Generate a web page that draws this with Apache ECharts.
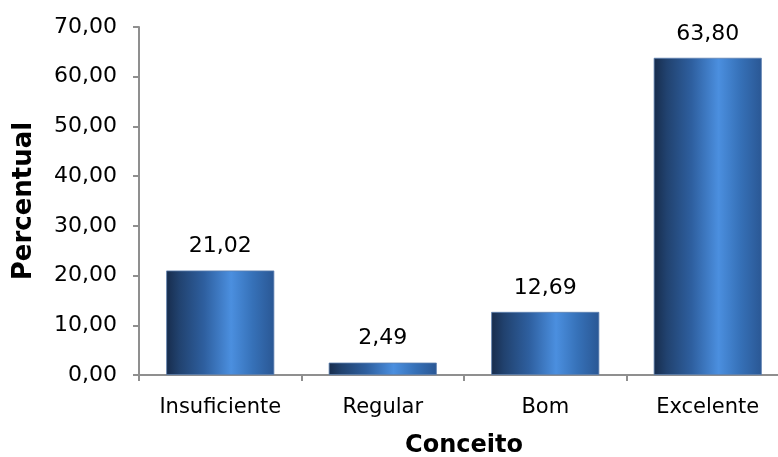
<!DOCTYPE html>
<html>
<head>
<meta charset="utf-8">
<script src="https://cdn.jsdelivr.net/npm/echarts@6/dist/echarts.min.js"></script>
<style>
  html, body { margin: 0; padding: 0; background: #fff; }
  #chart { width: 778px; height: 457px; overflow: hidden; }
</style>
</head>
<body>
<div id="chart"></div>
<script>
// Distribuição percentual por conceito
const categories = ['Insuficiente', 'Regular', 'Bom', 'Excelente'];
const percentual = [21.02, 2.49, 12.69, 63.80];
const yMin = 0, yMax = 70, yStep = 10;

const fmt = v => v.toFixed(2).replace('.', ',');
const FONT = '"DejaVu Sans", Verdana, sans-serif';

const barGradient = new echarts.graphic.LinearGradient(0, 0, 1, 0, [
  { offset: 0.00, color: '#172c4c' },
  { offset: 0.12, color: '#21426f' },
  { offset: 0.35, color: '#2e5f9f' },
  { offset: 0.60, color: '#4b8fdf' },
  { offset: 0.80, color: '#3671b8' },
  { offset: 1.00, color: '#2a5794' }
]);

const chart = echarts.init(document.getElementById('chart'), null, { renderer: 'canvas' });
chart.setOption({
  animation: false,
  backgroundColor: '#ffffff',
  grid: { left: 139, width: 650, top: 27, height: 348, containLabel: false, outerBoundsMode: 'none' },
  xAxis: {
    type: 'category',
    data: categories,
    name: 'Conceito',
    nameLocation: 'middle',
    nameGap: 59,
    nameTextStyle: { fontFamily: FONT, fontSize: 24, fontWeight: 'bold', color: '#000' },
    axisLine: { lineStyle: { color: '#8f8f8f', width: 2 } },
    axisTick: { show: true, length: 6, alignWithLabel: false, lineStyle: { color: '#8f8f8f', width: 2 } },
    axisLabel: { fontFamily: FONT, fontSize: 21, color: '#000', margin: 22 }
  },
  yAxis: {
    type: 'value',
    min: yMin, max: yMax, interval: yStep,
    name: 'Percentual',
    nameLocation: 'middle',
    nameGap: 102,
    nameRotate: 90,
    nameTextStyle: { fontFamily: FONT, fontSize: 26, fontWeight: 'bold', color: '#000' },
    axisLine: { show: true, lineStyle: { color: '#8f8f8f', width: 2 } },
    axisTick: { show: true, length: 6, lineStyle: { color: '#8f8f8f', width: 2 } },
    splitLine: { show: false },
    axisLabel: { fontFamily: FONT, fontSize: 22, color: '#000', margin: 22, formatter: v => fmt(v) }
  },
  series: [{
    type: 'bar',
    data: percentual,
    barWidth: '66.5%',
    itemStyle: { color: barGradient, borderColor: '#5d80b0', borderWidth: 0.8 },
    label: {
      show: true,
      position: 'top',
      distance: 13,
      fontFamily: FONT,
      fontSize: 22,
      color: '#000',
      formatter: p => fmt(p.value)
    }
  }]
});
</script>
</body>
</html>
